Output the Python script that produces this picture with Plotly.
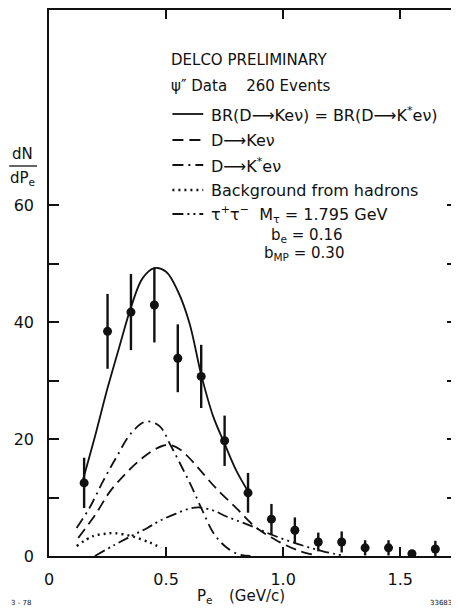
import plotly.graph_objects as go

# ---------------- data ----------------
p_bins = [0.15, 0.25, 0.35, 0.45, 0.55, 0.65, 0.75, 0.85, 0.95, 1.05, 1.15, 1.25, 1.35, 1.45, 1.55, 1.65]
counts = [12.5, 38.4, 41.7, 42.9, 33.8, 30.7, 19.7, 10.8, 6.3, 4.4, 2.4, 2.4, 1.4, 1.4, 0.4, 1.2]
errors = [4.3, 6.4, 6.5, 6.4, 5.8, 5.4, 4.3, 3.4, 2.6, 2.2, 1.6, 1.8, 1.3, 1.3, 0.6, 1.4]

total_x = [0.14, 0.2, 0.25, 0.3, 0.35, 0.4, 0.45, 0.5, 0.55, 0.6, 0.65, 0.7, 0.75, 0.8, 0.86]
total_y = [12.3, 21.0, 28.7, 35.7, 42.5, 47.5, 49.2, 48.6, 45.3, 39.8, 31.0, 24.0, 19.2, 14.6, 10.4]

kev_x = [0.125, 0.2, 0.26, 0.33, 0.40, 0.46, 0.51, 0.56, 0.612, 0.66, 0.713, 0.8, 0.88, 0.97, 1.06, 1.15]
kev_y = [3.1, 7.2, 11.0, 14.2, 16.8, 18.4, 19.0, 18.2, 16.2, 14.0, 11.6, 8.2, 5.0, 2.7, 1.0, 0.0]

kstar_x = [0.118, 0.174, 0.231, 0.288, 0.351, 0.415, 0.472, 0.521, 0.57, 0.612, 0.656, 0.706, 0.76, 0.81, 0.86]
kstar_y = [4.8, 8.3, 12.8, 16.9, 21.0, 23.0, 22.2, 18.8, 15.0, 11.6, 7.7, 3.7, 1.4, 0.3, 0.0]

tau_x = [0.196, 0.28, 0.351, 0.42, 0.472, 0.54, 0.6, 0.64, 0.7, 0.755, 0.82, 0.883, 0.96, 1.067, 1.17, 1.265]
tau_y = [0.0, 1.9, 3.4, 4.8, 6.0, 7.2, 8.1, 8.3, 7.8, 6.8, 5.8, 4.8, 3.5, 2.0, 0.8, 0.0]

bkg_x = [0.118, 0.188, 0.24, 0.28, 0.351, 0.43, 0.479]
bkg_y = [1.7, 3.4, 3.8, 3.9, 3.4, 2.3, 1.4]

x_ticks = [0, 0.5, 1.0, 1.5]
x_tick_labels = ["0", "0.5", "1.0", "1.5"]
y_ticks = [0, 10, 20, 30, 40, 50, 60]
y_tick_labels = ["0", "", "20", "", "40", "", "60"]

legend_labels = [
    "BR(D⟶Keν) = BR(D⟶K<sup>*</sup>eν)",
    "D⟶Keν",
    "D⟶K<sup>*</sup>eν",
    "Background from hadrons",
    "τ<sup>+</sup>τ<sup>−</sup>  M<sub>τ</sub> = 1.795 GeV",
]

# ---------------- layout geometry ----------------
OFF = 8                      # page body margin
W, H = 459 - OFF, 611 - OFF  # figure size
L, R, T = 49 - OFF, 0, 10 - OFF
B = H - (556 - OFF)
PW, PH = W - L - R, H - T - B
FONT = "DejaVu Sans"
INK = "#111111"

def px(x):   # screen x -> paper
    return (x - OFF - L) / PW

def py(y):   # screen y -> paper
    return (H - B - (y - OFF)) / PH

line_w = 1.8
DOT = "2px,4px"
styles = ["solid", "11px,6px", "11px,5px,2px,5px", DOT, "11px,4px,2px,4px,2px,4px"]

fig = go.Figure()
curves = [(total_x, total_y), (kev_x, kev_y), (kstar_x, kstar_y), (bkg_x, bkg_y), (tau_x, tau_y)]
for (cx, cy), st in zip(curves, styles):
    w = 2.4 if st == DOT else line_w
    fig.add_trace(go.Scatter(x=cx, y=cy, mode="lines", line_shape="spline",
                             line=dict(color=INK, width=w, dash=st),
                             showlegend=False, hoverinfo="skip"))

fig.add_trace(go.Scatter(
    x=p_bins, y=counts, mode="markers",
    marker=dict(color=INK, size=9),
    error_y=dict(type="data", array=errors, visible=True, color=INK, thickness=2.4, width=0),
    showlegend=False))

# ---------------- legend block ----------------
ann = []
def text(x, y, s, size=14, xanchor="left"):
    ann.append(dict(x=px(x), y=py(y), xref="paper", yref="paper", text=s, showarrow=False,
                    xanchor=xanchor, yanchor="middle", font=dict(family=FONT, size=size, color=INK)))

text(170, 60, "DELCO PRELIMINARY", 15)
text(170, 86, "ψ″ Data    260 Events", 15)
leg_y = [114, 140, 165, 190, 214]
shapes = []
for yy, lab, st in zip(leg_y, legend_labels, styles):
    w = 2.4 if st == DOT else line_w
    shapes.append(dict(type="line", xref="paper", yref="paper", x0=px(173), x1=px(204),
                       y0=py(yy), y1=py(yy), line=dict(color=INK, width=w, dash=st)))
    text(210, yy, lab, 16)
text(308, 235, "b<sub>e</sub> = 0.16", 15, "center")
text(305, 254, "b<sub>MP</sub> = 0.30", 15, "center")

# y-axis title as fraction
text(22, 154, "dN", 15, "center")
shapes.append(dict(type="line", xref="paper", yref="paper", x0=px(9), x1=px(37),
                   y0=py(166), y1=py(166), line=dict(color=INK, width=1.3)))
text(22, 178, "dP<sub>e</sub>", 15, "center")

# x-axis title and plate marks
text(206, 596, "P<sub>e</sub>", 15, "center")
text(258, 596, "(GeV/c)", 15, "center")
text(9, 603, "3 - 78", 7)
text(430, 603, "33683", 7)

fig.update_layout(
    width=W, height=H,
    margin=dict(l=L, r=R, t=T, b=B),
    paper_bgcolor="white", plot_bgcolor="white",
    font=dict(family=FONT, color=INK, size=15),
    annotations=ann, shapes=shapes,
    xaxis=dict(range=[0, PW / 235.3], tickvals=x_ticks, ticktext=x_tick_labels,
               ticks="inside", ticklen=9, tickwidth=1.5, tickcolor=INK,
               showline=True, linecolor=INK, linewidth=1.5, mirror="ticks",
               showgrid=False, zeroline=False, tickfont=dict(size=16), ticklabelstandoff=8),
    yaxis=dict(range=[0, PH / 5.85], tickvals=y_ticks, ticktext=y_tick_labels,
               ticks="inside", ticklen=10, tickwidth=1.5, tickcolor=INK,
               showline=True, linecolor=INK, linewidth=1.5, mirror="ticks",
               showgrid=False, zeroline=False, tickfont=dict(size=16), ticklabelstandoff=10),
)

fig.write_html("out.html")
